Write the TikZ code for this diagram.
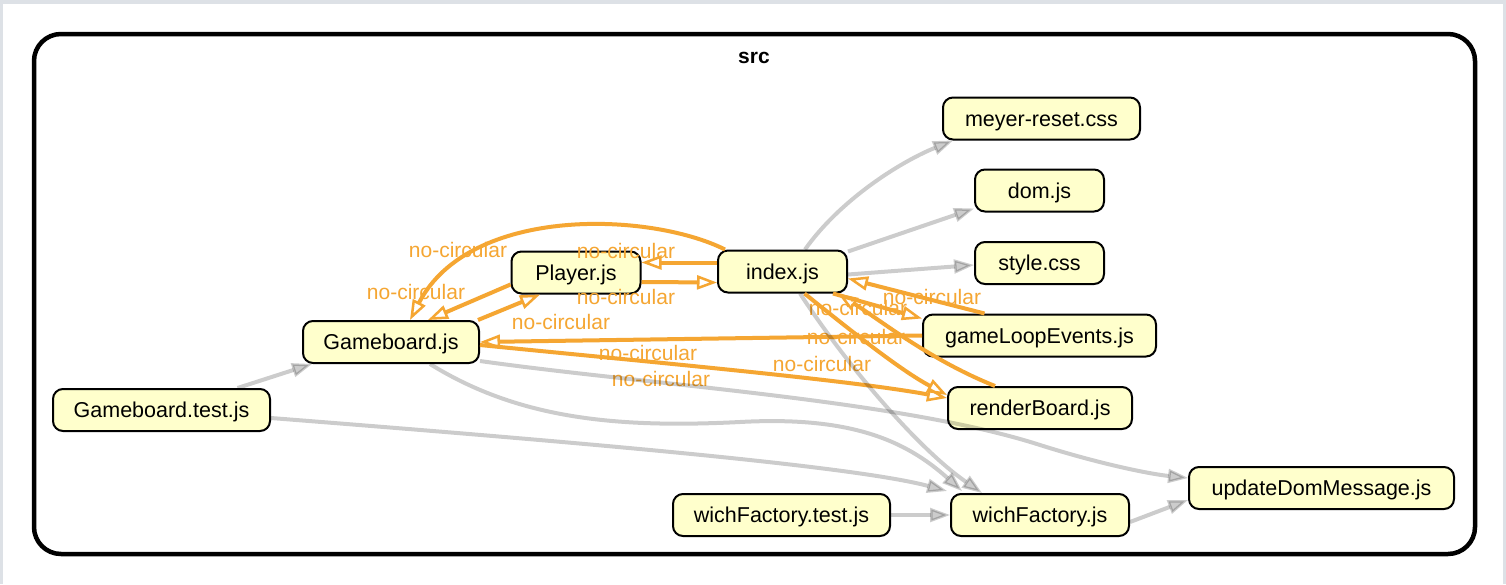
\documentclass[tikz,border=0pt]{standalone}
\usepackage{fontspec}
\setmainfont{Liberation Sans}
\usetikzlibrary{arrows.meta}
\definecolor{nodefill}{RGB}{255,255,204}
\definecolor{orng}{RGB}{245,166,50}
\definecolor{framegray}{RGB}{221,225,230}
\begin{document}
\begin{tikzpicture}[x=1pt,y=-1pt,
  file/.style={draw=black, line width=2pt, fill=nodefill, rounded corners=10pt, minimum height=42pt, inner sep=0pt, text height=15pt, text depth=0pt, font=\fontsize{21.5}{25}\selectfont},
  lbl/.style={text=orng, font=\fontsize{21}{25}\selectfont, inner sep=0pt, text height=15pt, text depth=0pt},
  dep/.style={draw=black, opacity=0.2, line width=4pt, -{Triangle[length=20pt,width=14pt,line width=2.5pt]}},
  circ/.style={draw=orng, line width=4pt, -{Triangle[open,length=20pt,width=14pt,line width=2.5pt]}},
]
\fill[framegray] (0,0) rectangle (1506,584);
\fill[white] (3,4) rectangle (1503,584);
\useasboundingbox (0,0) rectangle (1506,584);
\draw[line width=4.5pt, rounded corners=27pt] (34,34) rectangle (1475,554);
\node[font=\bfseries\fontsize{21}{25}\selectfont, text height=15pt, text depth=0pt, inner sep=0pt] (srclbl) at (754,56) {src};

% nodes
\node[file, minimum width=217pt] (gbt) at (161.5,410) {Gameboard.test.js};
\node[file, minimum width=176pt] (gb) at (391,342) {Gameboard.js};
\node[file, minimum width=129pt] (pl) at (576,272.5) {Player.js};
\node[file, minimum width=129pt] (idx) at (782.5,271.5) {index.js};
\node[file, minimum width=197pt] (mr) at (1041.5,118.5) {meyer-reset.css};
\node[file, minimum width=129pt] (dom) at (1039.5,190.5) {dom.js};
\node[file, minimum width=129pt] (sty) at (1039.5,263) {style.css};
\node[file, minimum width=233pt] (gle) at (1039.5,335.5) {gameLoopEvents.js};
\node[file, minimum width=184pt] (rb) at (1040,408) {renderBoard.js};
\node[file, minimum width=265pt] (udm) at (1321.5,488) {updateDomMessage.js};
\node[file, minimum width=217pt] (wft) at (781.5,515) {wichFactory.test.js};
\node[file, minimum width=178pt] (wf) at (1040,515) {wichFactory.js};

% labels
\node[lbl] (l1) at (458,250) {no-circular};
\node[lbl] (l2) at (626,251) {no-circular};
\node[lbl] (l3) at (416,292) {no-circular};
\node[lbl] (l4) at (626,297) {no-circular};
\node[lbl] (l5) at (561,322) {no-circular};
\node[lbl] (l6) at (932,297) {no-circular};
\node[lbl] (l7) at (858,308) {no-circular};
\node[lbl] (l8) at (856,337) {no-circular};
\node[lbl] (l9) at (648,353) {no-circular};
\node[lbl] (l10) at (661,379) {no-circular};
\node[lbl] (l11) at (822,364) {no-circular};

% orange edges
\draw[circ] ([xshift=8pt]idx.north west) .. controls (650,212) and (470,205) .. ([xshift=19pt]gb.north);
\draw[circ] ([yshift=-12pt]pl.west) -- ([xshift=37pt]gb.north);
\draw[circ] ([xshift=-2pt]gb.north east) -- ([xshift=-36pt]pl.south);
\draw[circ] ([yshift=9pt]idx.west) -- ([yshift=10pt]pl.east);
\draw[circ] ([yshift=-9.5pt]pl.east) -- ([yshift=-11pt]idx.west);
\draw[circ] ([xshift=-55pt]gle.north) -- ([yshift=-7pt]idx.east);
\draw[circ] ([xshift=-15pt]idx.south east) -- ([yshift=-5pt]gle.north west);
\draw[circ] ([xshift=-45pt]rb.north) .. controls (930,360) and (880,320) .. ([xshift=-10pt]idx.south east);
\draw[circ] ([xshift=22pt]idx.south) .. controls (850,330) and (900,370) .. ([yshift=13pt]rb.west);
\draw[circ] (gle.west) -- (gb.east);
\draw[circ] ([yshift=-3pt]gb.east) .. controls (650,362) and (850,380) .. ([yshift=10pt]rb.west);

% gray edges
\draw[dep] ([xshift=76pt]gbt.north) -- ([xshift=10pt]gb.south west);
\draw[dep] ([yshift=-8pt]gbt.east) .. controls (550,440) and (850,465) .. ([xshift=-3pt,yshift=2pt]wf.north west);
\draw[dep] ([xshift=39pt]gb.south) .. controls (520,420) and (620,428) .. (740,422) .. controls (850,416) and (905,440) .. ([xshift=12pt,yshift=2pt]wf.north west);
\draw[dep] ([yshift=-19pt]gb.east) .. controls (650,385) and (900,400) .. (1040,445) .. controls (1100,464) and (1150,474) .. ([yshift=10pt]udm.west);
\draw[dep] ([xshift=17.5pt]idx.south) .. controls (850,370) and (920,450) .. ([xshift=-58pt]wf.north);
\draw[dep] ([xshift=22.5pt]idx.north) .. controls (840,200) and (900,162) .. ([xshift=11pt]mr.south west);
\draw[dep] ([yshift=-2pt]idx.north east) -- ([yshift=-18pt]dom.west);
\draw[dep] ([yshift=-3pt]idx.east) -- ([yshift=-2pt]sty.west);
\draw[dep] (wft) -- (wf);
\draw[dep] ([yshift=-7pt]wf.east) -- ([yshift=-12pt]udm.west);
\end{tikzpicture}
\end{document}
